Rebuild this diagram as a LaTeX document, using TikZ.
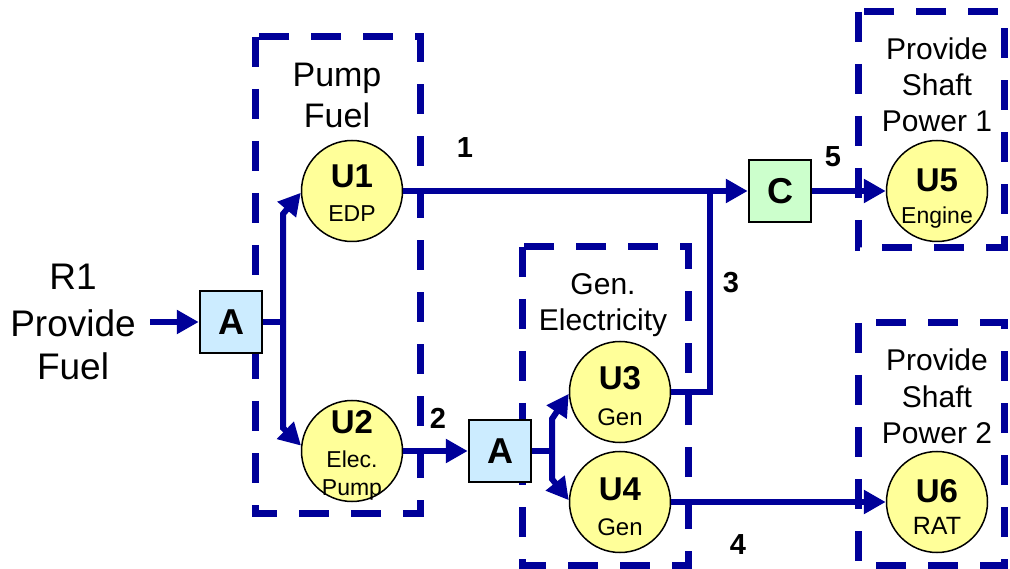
\documentclass[tikz,border=0pt]{standalone}
\usepackage{fontspec}
\setmainfont{Liberation Sans}
\usetikzlibrary{arrows.meta,calc}
\definecolor{navy}{HTML}{000099}
\definecolor{uyellow}{HTML}{FFFF99}
\definecolor{ablue}{HTML}{CCECFF}
\definecolor{cgreen}{HTML}{CCFFCC}
\begin{document}
\begin{tikzpicture}[x=1pt,y=-1pt,
  flow/.style={draw=navy, line width=6pt},
  arr/.style={flow, -{Triangle[length=22pt,width=23pt]}},
  dashbox/.style={draw=navy, line width=7pt, dash pattern=on 30pt off 22pt},
  unit/.style={circle, draw=black, line width=1.5pt, fill=uyellow, minimum size=101pt, inner sep=0pt},
  blockbox/.style={rectangle, draw=black, line width=2.5pt, minimum size=62pt, inner sep=0pt, font=\bfseries\fontsize{36}{36}\selectfont},
  ulab/.style={anchor=base, inner sep=0pt, font=\bfseries\fontsize{33}{33}\selectfont},
  usub/.style={anchor=base, inner sep=0pt, font=\fontsize{23}{23}\selectfont},
  numlab/.style={inner sep=0pt, font=\bfseries\fontsize{29}{29}\selectfont},
  bigtxt/.style={anchor=base, inner sep=0pt, font=\fontsize{37}{37}\selectfont},
  grptxt/.style={anchor=base, inner sep=0pt, font=\fontsize{30}{30}\selectfont}
]
\useasboundingbox (0,0) rectangle (1010,569);
\fill[white] (0,0) rectangle (1010,569);

% group boxes
\draw[dashbox] (255,37) rectangle (420,513);
\draw[dashbox] (522,247) rectangle (688,565);
\draw[dashbox] (858,12) rectangle (1004,248);
\draw[dashbox] (858,323) rectangle (1004,565);

% group titles
\node[bigtxt] (r1a) at (73,290) {R1};
\node[bigtxt] (r1b) at (73,337) {Provide};
\node[bigtxt] (r1c) at (73,380) {Fuel};
\node[grptxt,font=\fontsize{34}{34}\selectfont] (pfa) at (337,87) {Pump};
\node[grptxt,font=\fontsize{34}{34}\selectfont] (pfb) at (337,128) {Fuel};
\node[grptxt] (gea) at (603,295) {Gen.};
\node[grptxt] (geb) at (603,331) {Electricity};
\node[grptxt] (s1a) at (937,60) {Provide};
\node[grptxt] (s1b) at (937,96) {Shaft};
\node[grptxt] (s1c) at (937,132) {Power 1};
\node[grptxt] (s2a) at (937,371) {Provide};
\node[grptxt] (s2b) at (937,407) {Shaft};
\node[grptxt] (s2c) at (937,443) {Power 2};

% blocks
\node[blockbox, fill=ablue] (a1) at (231,322) {A};
\node[blockbox, fill=ablue] (a2) at (500,451) {A};
\node[blockbox, fill=cgreen] (c) at (780,191) {C};

% units
\node[unit] (u1) at (352,191) {};
\node[unit] (u2) at (352,451) {};
\node[unit] (u3) at (620,392) {};
\node[unit] (u4) at (620,502) {};
\node[unit] (u5) at (937,191) {};
\node[unit] (u6) at (937,502) {};

\node[ulab] (u1t) at (352,188) {U1};
\node[usub] (u1s) at (352,222) {EDP};
\node[ulab] (u2t) at (352,433) {U2};
\node[usub] (u2s) at (352,467) {Elec.};
\node[usub] (u2r) at (352,495) {Pump};
\node[ulab] (u3t) at (620,389) {U3};
\node[usub,font=\fontsize{24}{24}\selectfont] (u3s) at (620,425) {Gen};
\node[ulab] (u4t) at (620,500) {U4};
\node[usub,font=\fontsize{24}{24}\selectfont] (u4s) at (620,535) {Gen};
\node[ulab] (u5t) at (937,192) {U5};
\node[usub] (u5s) at (937,224) {Engine};
\node[ulab] (u6t) at (937,502) {U6};
\node[usub,font=\fontsize{25}{25}\selectfont] (u6s) at (937,534) {RAT};

% connectors
\coordinate (in) at (150,322);
\coordinate (br1) at (283,322);
\coordinate (br2) at (552,451);
\coordinate (j3a) at (710,392);
\coordinate (j3b) at (710,191);

\draw[arr] (in) -- (a1);
\draw[flow] (a1.east) -- (br1);
\draw[arr] (br1) -- ++(0,-108) -- (u1.182);
\draw[arr] (br1) -- ++(0,106) -- (u2.174);
\draw[arr] (u2) -- (a2);
\draw[flow] (a2.east) -- (br2);
\draw[arr] (br2) -- ++(0,-32) -- (u3.182);
\draw[arr] (br2) -- ++(0,28) -- (u4.178);
\draw[arr] (u1) -- (c);
\draw[flow] (u3.east) -- (j3a) -- (j3b);
\draw[arr] (c) -- (u5);
\draw[arr] (u4) -- (u6);

% connector labels
\node[numlab] (n1) at (465,148) {1};
\node[numlab] (n2) at (438,418) {2};
\node[numlab] (n3) at (731,283) {3};
\node[numlab] (n4) at (738,545) {4};
\node[numlab] (n5) at (833,157) {5};
\end{tikzpicture}
\end{document}
